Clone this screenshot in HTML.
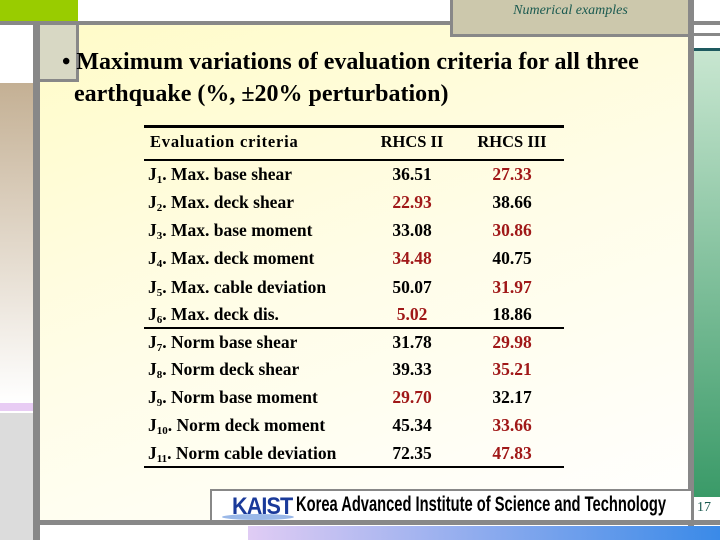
<!DOCTYPE html>
<html><head><meta charset="utf-8"><style>
body{margin:0;width:720px;height:540px;overflow:hidden;position:relative;font-family:"Liberation Serif",serif;background:#fff}
div{position:absolute;box-sizing:border-box}
.t{font-weight:bold;font-size:17.5px;color:#000;white-space:nowrap}
.r{color:#a01818}
sub{font-size:11px;vertical-align:-3px}
</style></head><body>
<div style="left:40px;top:25px;width:648px;height:495px;background:linear-gradient(160deg,#fffbc8 0%,#fffde8 50%,#ffffff 100%)"></div>
<div style="left:0;top:0;width:78px;height:22px;background:#99cc00"></div>
<div style="left:0;top:21px;width:720px;height:4px;background:#888"></div>
<div style="left:0;top:25px;width:33px;height:56px;background:#fff"></div>
<div style="left:0;top:83px;width:33px;height:320px;background:linear-gradient(#c4b094,#fff)"></div>
<div style="left:0;top:403px;width:33px;height:8px;background:#e8ccf4"></div>
<div style="left:0;top:413px;width:33px;height:127px;background:#dcdcdc"></div>
<div style="left:33px;top:22px;width:7px;height:518px;background:#888"></div>
<div style="left:40px;top:25px;width:39px;height:57px;background:#d8d8c4;border-right:3px solid #888;border-bottom:3px solid #888"></div>
<div style="left:688px;top:0;width:6px;height:540px;background:#888"></div>
<div style="left:694px;top:33px;width:26px;height:3px;background:#888"></div>
<div style="left:694px;top:48px;width:26px;height:449px;border-top:3px solid #1e5a60;background:linear-gradient(#c8e6d0,#3a9a68)"></div>
<div style="left:450px;top:0;width:241px;height:37px;background:#ccc8ac;border:3px solid #888;border-top:0;text-align:center;padding-top:3px;font-style:italic;font-size:14px;color:#1a5a50">Numerical examples</div>
<div style="left:62px;top:46px;font-weight:bold;font-size:24px;line-height:32px;white-space:nowrap">• Maximum variations of evaluation criteria for all three<br>&nbsp;&nbsp;earthquake (%, ±20% perturbation)</div>
<div style="left:144px;top:125px;width:420px;height:3px;background:#000"></div>
<div style="left:144px;top:159px;width:420px;height:2px;background:#000"></div>
<div style="left:144px;top:327px;width:420px;height:2px;background:#000"></div>
<div style="left:144px;top:466px;width:420px;height:2px;background:#000"></div>
<div class="t" style="left:150px;top:132px;font-size:16.5px;letter-spacing:0.8px">Evaluation criteria</div>
<div class="t" style="left:362px;width:100px;text-align:center;top:132px;font-size:16.5px">RHCS II</div>
<div class="t" style="left:462px;width:100px;text-align:center;top:132px;font-size:16.5px">RHCS III</div>
<div id="rows"></div>
<div style="left:210px;top:489px;width:481px;height:33px;background:#fff;border:2px solid #888;border-right:0"></div>
<div style="left:232px;top:493px;font-family:'Liberation Sans',sans-serif;font-weight:bold;font-size:24px;color:#1a3a9a;letter-spacing:-1px;transform:scaleX(0.9);transform-origin:left">KAIST</div>
<div style="left:222px;top:514px;width:72px;height:6px;border-radius:50%;background:#9ab8e8"></div>
<div style="left:296px;top:493px;font-family:'Liberation Sans',sans-serif;font-weight:bold;font-size:21px;white-space:nowrap;transform:scaleX(0.7);transform-origin:left">Korea Advanced Institute of Science and Technology</div>
<div style="left:694px;top:497px;width:26px;height:23px;background:#fff;font-size:14px;color:#1a5a50;padding:3px 0 0 3px">17</div>
<div style="left:40px;top:520px;width:680px;height:5px;background:#888"></div>
<div style="left:248px;top:526px;width:472px;height:14px;background:linear-gradient(90deg,#e0ccf4,#3a8ae8)"></div>
<script>
const labels=["Max. base shear","Max. deck shear","Max. base moment","Max. deck moment","Max. cable deviation","Max. deck dis.","Norm base shear","Norm deck shear","Norm base moment","Norm deck moment","Norm cable deviation"];
const rhcs2=["36.51","22.93","33.08","34.48","50.07","5.02","31.78","39.33","29.70","45.34","72.35"];
const rhcs3=["27.33","38.66","30.86","40.75","31.97","18.86","29.98","35.21","32.17","33.66","47.83"];
const red2=[0,1,0,1,0,1,0,0,1,0,0];
const red3=[1,0,1,0,1,0,1,1,0,1,1];
const tops=[164,192,220,248,277,304,332,359,387,415,443];
const rows=document.getElementById('rows');
labels.forEach((l,i)=>{
  const a=document.createElement('div');a.className='t';
  
  
  a.style.left='148px';a.style.top=tops[i]+'px';
  a.innerHTML='J<sub>'+(i+1)+'</sub>. '+l;rows.appendChild(a);
  const b=document.createElement('div');b.className='t'+(red2[i]?' r':'');
  
  
  b.style.left='362px';b.style.width='100px';b.style.textAlign='center';b.style.top=tops[i]+'px';
  b.textContent=rhcs2[i];rows.appendChild(b);
  const c=document.createElement('div');c.className='t'+(red3[i]?' r':'');
  
  
  c.style.left='462px';c.style.width='100px';c.style.textAlign='center';c.style.top=tops[i]+'px';
  c.textContent=rhcs3[i];rows.appendChild(c);
});
</script>
</body></html>
